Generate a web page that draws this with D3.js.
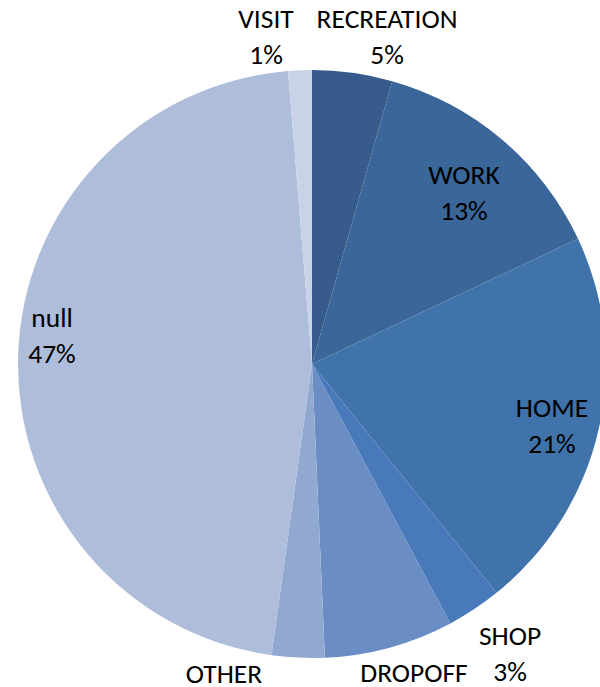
<!DOCTYPE html>
<html><head><meta charset="utf-8">
<script src="https://cdn.jsdelivr.net/npm/d3@7"></script>
<style>body{margin:0;background:#fff;overflow:hidden}svg{display:block}</style>
</head><body>
<svg id="c" width="600" height="687"></svg>
<script>
const categories = ["RECREATION","WORK","HOME","SHOP","DROPOFF","OTHER","null","VISIT"];
const values = [4.4, 13.6, 21.2, 3.0, 7.1, 2.9, 46.5, 1.3];
const pctLabels = ["5%","13%","21%","3%","7%","3%","47%","1%"];
const colors = ["#375C8B","#3A6699","#3F73AA","#4879BA","#6A8DC4","#91A9D1","#AEBDDA","#C9D3E8"];

const svg = d3.select("#c");
const cx = 312, cy = 364, r = 294;
const g = svg.append("g").attr("transform", `translate(${cx},${cy})`);
const pie = d3.pie().sort(null).value(d => d)(values);
const arc = d3.arc().innerRadius(0).outerRadius(r);
g.selectAll("path").data(pie).enter().append("path")
  .attr("d", arc).attr("fill", (d,i) => colors[i]);

// label offsets (first-line baseline) relative to the pie centre
const labelPos = [
  [75, -336], [152, -180], [240, 53], [198, 281], [102, 318], [-88, 319], [-260, -37], [-46, -336]
];
const font = "Carlito, 'Open Sans', 'Liberation Sans', sans-serif";
const lbl = g.selectAll("g.lbl").data(pie).enter().append("g").attr("class","lbl")
  .attr("transform", (d,i) => `translate(${labelPos[i][0]},${labelPos[i][1]})`);
lbl.append("text").attr("text-anchor","middle").attr("font-family",font).attr("font-size",27.5)
  .attr("fill","#000").text((d,i) => categories[i]);
lbl.append("text").attr("text-anchor","middle").attr("font-family",font).attr("font-size",27.5)
  .attr("fill","#000").attr("y",36).text((d,i) => pctLabels[i]);
</script>
</body></html>
